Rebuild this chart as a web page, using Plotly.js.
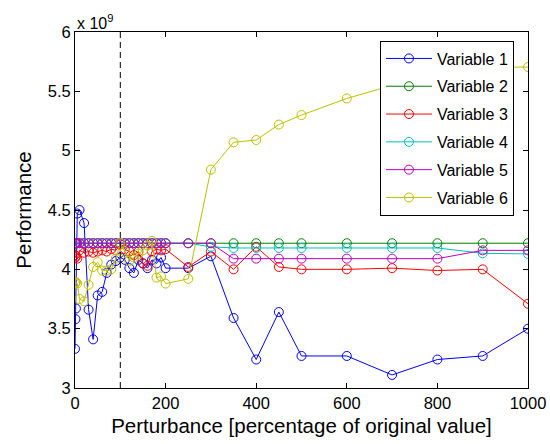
<!DOCTYPE html>
<html>
<head>
<meta charset="utf-8">
<script src="https://cdn.plot.ly/plotly-3.0.1.min.js"></script>
<style>html,body{margin:0;padding:0;background:#fff;}#chart{width:550px;height:444px;}</style>
</head>
<body>
<div id="chart"></div>
<script>
// Perturbance (% of original value)
const perturbance = [0,1,2,5,10,20,30,40,50,60,70,80,90,100,110,120,130,140,150,160,170,180,190,200,250,300,350,400,450,500,600,700,800,900,1000];
// Performance values, in units of 1e9
const variable1 = [3.33,3.58,3.67,4.47,4.50,4.39,3.66,3.41,3.78,3.81,3.97,4.04,4.07,4.10,4.08,4.01,3.97,4.08,4.05,4.01,4.08,4.05,4.10,4.01,4.01,4.11,3.59,3.24,3.64,3.27,3.27,3.11,3.24,3.27,3.50];
const variable2 = [4.22,4.22,4.22,4.22,4.22,4.22,4.22,4.22,4.22,4.22,4.22,4.22,4.22,4.22,4.22,4.22,4.22,4.22,4.22,4.22,4.22,4.22,4.22,4.22,4.22,4.22,4.22,4.22,4.22,4.22,4.22,4.22,4.22,4.22,4.22];
const variable3 = [4.12,4.10,4.11,4.09,4.16,4.14,4.15,4.14,4.15,4.16,4.15,4.17,4.16,4.21,4.17,4.15,4.12,4.15,4.05,4.03,4.15,4.17,4.16,4.17,4.02,4.15,4.00,4.19,4.02,4.00,4.00,4.01,3.99,4.00,3.71];
const variable4 = [4.22,4.22,4.22,4.22,4.22,4.22,4.22,4.22,4.22,4.22,4.22,4.22,4.22,4.22,4.22,4.22,4.22,4.22,4.22,4.22,4.22,4.22,4.22,4.22,4.22,4.19,4.18,4.18,4.18,4.18,4.18,4.18,4.18,4.135,4.13];
const variable5 = [4.22,4.22,4.22,4.22,4.22,4.22,4.22,4.22,4.22,4.22,4.22,4.22,4.22,4.22,4.22,4.22,4.22,4.22,4.22,4.22,4.22,4.22,4.22,4.22,4.22,4.22,4.09,4.09,4.09,4.09,4.09,4.09,4.09,4.16,4.16];
const variable6 = [3.88,3.89,3.89,3.88,3.75,3.73,3.87,4.02,4.06,3.99,3.99,4.00,4.09,4.22,4.15,4.07,4.10,4.13,4.16,4.20,4.24,3.93,3.94,3.88,3.92,4.84,5.07,5.09,5.22,5.30,5.44,5.55,5.63,5.70,5.705];
const seriesNames = ["Variable 1","Variable 2","Variable 3","Variable 4","Variable 5","Variable 6"];
const seriesColors = ["#0000ff","#008000","#ff0000","#00bfbf","#bf00bf","#bfbf00"];
const xTicks = [0,200,400,600,800,1000];
const yTicks = [3,3.5,4,4.5,5,5.5,6];
const markerLine = 100;

const allY = [variable1,variable2,variable3,variable4,variable5,variable6];
const font = "Liberation Sans, Arial, Helvetica, sans-serif";

const traces = allY.map((ys, i) => ({
  type: 'scatter', mode: 'lines+markers',
  x: perturbance, y: ys, name: seriesNames[i],
  legendgroup: 'g' + i,
  line: {color: seriesColors[i], width: 1},
  marker: {symbol: 'circle-open', size: 9, color: seriesColors[i], line: {width: 1, color: seriesColors[i]}}
}));

const layout = {
  width: 550, height: 444,
  margin: {l: 75, r: 22, t: 32, b: 56},
  paper_bgcolor: '#fff', plot_bgcolor: '#fff',
  font: {family: font, size: 16, color: '#000'},
  showlegend: true,
  legend: {
    x: 0.969, xanchor: 'right', y: 0.976, yanchor: 'top',
    bordercolor: '#000', borderwidth: 1, bgcolor: '#fff',
    font: {family: font, size: 16, color: '#000'},
    traceorder: 'grouped', tracegroupgap: 4, itemwidth: 46
  },
  xaxis: {
    range: [0, 1000], tickvals: xTicks, ticktext: xTicks.map(String),
    ticks: 'inside', ticklen: 5, tickcolor: '#000',
    showline: true, linecolor: '#000', linewidth: 1, mirror: 'ticks',
    showgrid: false, zeroline: false,
    tickfont: {family: font, size: 16.5},
    title: {text: 'Perturbance [percentage of original value]', font: {family: font, size: 20.5}, standoff: 7}
  },
  yaxis: {
    range: [3, 6], tickvals: yTicks, ticktext: yTicks.map(String),
    ticks: 'inside', ticklen: 5, tickcolor: '#000',
    showline: true, linecolor: '#000', linewidth: 1, mirror: 'ticks',
    showgrid: false, zeroline: false,
    tickfont: {family: font, size: 16.5},
    title: {text: 'Performance', font: {family: font, size: 20.5}, standoff: 10}
  },
  shapes: [{
    type: 'line', xref: 'x', yref: 'paper', x0: markerLine, x1: markerLine, y0: 0, y1: 1,
    line: {color: '#000', width: 1, dash: '6px,4px'}
  }],
  annotations: [{
    xref: 'paper', yref: 'paper', x: 0, y: 1, xanchor: 'left', yanchor: 'bottom',
    text: 'x 10<sup>9</sup>', showarrow: false, font: {family: font, size: 16}, yshift: -2
  }]
};

Plotly.newPlot('chart', traces, layout, {staticPlot: true, displayModeBar: false});
</script>
</body>
</html>
